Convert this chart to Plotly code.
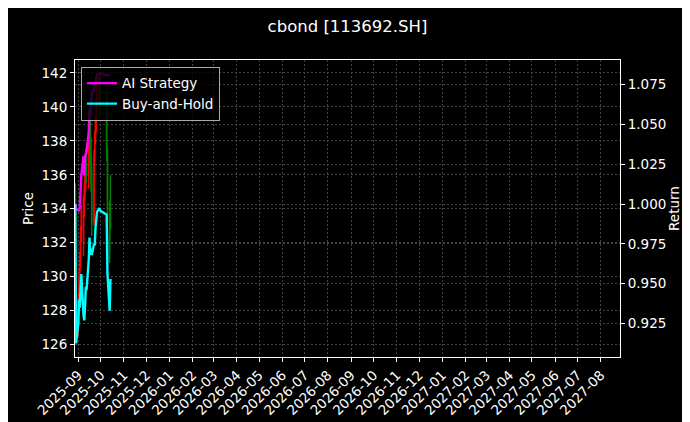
import plotly.graph_objects as go

# daily bars
dates = ['2025-08-28', '2025-08-29', '2025-09-01', '2025-09-02', '2025-09-03', '2025-09-04',
         '2025-09-05', '2025-09-08', '2025-09-09', '2025-09-10', '2025-09-11', '2025-09-12',
         '2025-09-15', '2025-09-16', '2025-09-17', '2025-09-18', '2025-09-19', '2025-09-22',
         '2025-09-23', '2025-09-24', '2025-09-25', '2025-09-26', '2025-09-29', '2025-09-30',
         '2025-10-09', '2025-10-10', '2025-10-13', '2025-10-14']
opens = [135.0, 130.0, 127.2, 128.5, 130.0, 131.0, 132.6, 132.0, 134.5, 135.2, 135.6, 137.0,
         136.0, 137.6, 139.2, 137.0, 135.5, 133.2, 137.2, 138.3, 139.2, 140.3, 141.0, 141.6,
         140.5, 137.2, 134.0, 133.5]
highs = [135.5, 130.8, 129.0, 130.5, 131.5, 133.0, 134.2, 134.8, 135.5, 136.3, 137.5, 137.6,
         138.0, 139.8, 139.6, 138.2, 136.5, 137.5, 138.6, 139.5, 140.6, 141.5, 141.96, 141.9,
         141.0, 137.6, 134.5, 136.0]
lows = [129.5, 126.1, 126.5, 128.0, 129.2, 130.5, 132.0, 131.2, 133.5, 134.5, 135.0, 135.5,
        135.2, 137.0, 136.5, 135.0, 132.4, 133.0, 136.8, 137.8, 138.5, 139.6, 140.0, 139.5,
        136.8, 133.5, 130.8, 132.8]
closes = [130.0, 127.0, 128.5, 130.0, 131.0, 132.6, 133.8, 134.5, 135.2, 136.0, 137.0, 136.0,
          137.6, 139.2, 137.0, 135.5, 133.2, 137.2, 138.3, 139.2, 140.3, 141.0, 141.6, 140.5,
          137.2, 134.0, 131.5, 133.0]

ai_strategy = [1.000, 0.997, 0.996, 0.996, 0.998, 1.006, 1.018, 1.030, 1.018, 1.030, 1.032, 1.033,
               1.045, 1.060, 1.055, 1.064, 1.070, 1.072, 1.074, 1.078, 1.080, 1.081, 1.082, 1.082,
               1.081, 1.081, 1.081, 1.081]
buy_hold = [1.000, 0.9125, 0.925, 0.940, 0.935, 0.950, 0.956, 0.930, 0.927, 0.935, 0.948, 0.946,
            0.965, 0.979, 0.968, 0.972, 0.968, 0.975, 0.974, 0.985, 0.991, 0.995, 0.9975, 0.996,
            0.9933, 0.956, 0.933, 0.953]

month_ticks = ['2025-09-01', '2025-10-01', '2025-11-01', '2025-12-01', '2026-01-01', '2026-02-01',
               '2026-03-01', '2026-04-01', '2026-05-01', '2026-06-01', '2026-07-01', '2026-08-01',
               '2026-09-01', '2026-10-01', '2026-11-01', '2026-12-01', '2027-01-01', '2027-02-01',
               '2027-03-01', '2027-04-01', '2027-05-01', '2027-06-01', '2027-07-01', '2027-08-01']
price_ticks = [126, 128, 130, 132, 134, 136, 138, 140, 142]
return_ticks = [0.925, 0.950, 0.975, 1.000, 1.025, 1.050, 1.075]

grid = '#444444'
font = 'DejaVu Sans'
fsize = 13.5

fig = go.Figure()
fig.add_trace(go.Candlestick(
    x=dates, open=opens, high=highs, low=lows, close=closes,
    increasing=dict(line=dict(color='red', width=1.4), fillcolor='red'),
    decreasing=dict(line=dict(color='green', width=1.4), fillcolor='green'),
    showlegend=False, hoverinfo='skip'))
fig.add_trace(go.Scatter(x=dates, y=ai_strategy, name='AI Strategy', yaxis='y2',
                         mode='lines', line=dict(color='#ff00ff', width=2.4)))
fig.add_trace(go.Scatter(x=dates, y=buy_hold, name='Buy-and-Hold', yaxis='y2',
                         mode='lines', line=dict(color='#00ffff', width=2.4)))

fig.update_layout(
    width=690, height=422,
    paper_bgcolor='black', plot_bgcolor='black',
    margin=dict(l=67, r=78, t=52, b=70),
    font=dict(family=font, color='white', size=fsize),
    title=dict(text='cbond [113692.SH]', xref='paper', x=0.5, xanchor='center',
               y=0.957, yanchor='middle', font=dict(size=16.5, color='white')),
    xaxis=dict(type='date', range=['2025-08-27 14:00', '2027-08-26 19:00'],
               tickvals=month_ticks, tickformat='%Y-%m', tickangle=-45,
               tickfont=dict(size=fsize),
               showgrid=True, gridcolor=grid, griddash='2px,2px', gridwidth=0.6,
               showline=True, linecolor='white', linewidth=1, mirror=True,
               ticks='outside', ticklen=4, tickcolor='white',
               rangeslider=dict(visible=False), zeroline=False),
    yaxis=dict(range=[125.27, 142.76], tickvals=price_ticks, tickfont=dict(size=fsize),
               title=dict(text='Price', standoff=4, font=dict(size=fsize)),
               showgrid=True, gridcolor=grid, griddash='2px,2px', gridwidth=0.6,
               showline=True, linecolor='white', linewidth=1,
               ticks='outside', ticklen=4, tickcolor='white', zeroline=False),
    yaxis2=dict(range=[0.904, 1.0904], tickvals=return_ticks, tickformat='.3f',
                tickfont=dict(size=fsize),
                title=dict(text='Return', standoff=3, font=dict(size=fsize)),
                overlaying='y', side='right',
                showgrid=True, gridcolor=grid, griddash='2px,2px', gridwidth=0.6,
                showline=True, linecolor='white', linewidth=1,
                ticks='outside', ticklen=4, tickcolor='white', zeroline=False),
    legend=dict(x=0.011, y=0.977, xanchor='left', yanchor='top',
                bgcolor='rgba(0,0,0,0.8)', bordercolor='#aaaaaa', borderwidth=1,
                font=dict(size=fsize, color='white'), tracegroupgap=0),
)

fig.write_html("out.html")
